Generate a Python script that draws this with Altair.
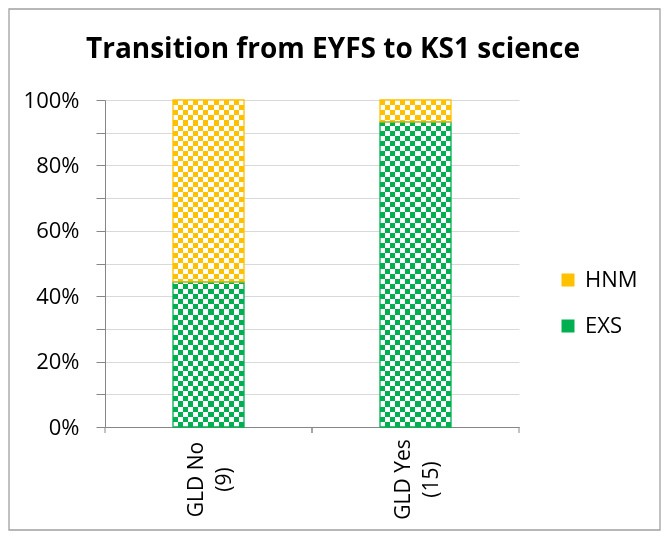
import altair as alt
import pandas as pd

# ---- data ----
categories = ["GLD No (9)", "GLD Yes (15)"]
series = ["HNM", "EXS"]
exs_values = [0.444, 0.933]
hnm_values = [0.556, 0.067]
series_colors = ["#FFC000", "#00B050"]
title_text = "Transition from EYFS to KS1 science"

long_df = pd.DataFrame({
    "category": categories * 2,
    "series": ["EXS"] * len(categories) + ["HNM"] * len(categories),
    "value": exs_values + hnm_values,
    "stackorder": [0] * len(categories) + [1] * len(categories),
})
totals_df = pd.DataFrame({
    "category": categories,
    "total": [e + h for e, h in zip(exs_values, hnm_values)],
})

W, H = 414, 327
BAR = 71
FONT = "Open Sans"
AXIS_GRAY = "#868686"


def stripes(n, vertical):
    stops = []
    for i in range(n):
        c = "#000000" if i % 2 == 0 else "#ffffff"
        stops.append(alt.GradientStop(color=c, offset=i / n))
        stops.append(alt.GradientStop(color=c, offset=(i + 1) / n))
    if vertical:
        return alt.LinearGradient(gradient="linear", stops=stops, x1=0, x2=1, y1=0, y2=0)
    return alt.LinearGradient(gradient="linear", stops=stops, x1=0, x2=0, y1=0, y2=1)


x_scale = alt.Scale(paddingInner=0, paddingOuter=0)
y_scale = alt.Scale(domain=[0, 1], nice=False)

x_axis = alt.Axis(
    title=None, labelAngle=270, labelAlign="center", labelBaseline="middle",
    labelExpr="split(replace(datum.label, ' (', '|('), '|')",
    labelLineHeight=28, labelPadding=52, labelOffset=-12, ticks=False, tickSize=0,
    domainColor=AXIS_GRAY, labelFont=FONT, labelFontSize=21, labelColor="#000000",
    grid=False, labelOverlap=False,
)
y_axis = alt.Axis(
    title=None, values=[i / 10 for i in range(11)], format=".0%",
    labelExpr="round(datum.value * 10) % 2 == 0 ? datum.label : ''",
    grid=True, gridColor="#d9d9d9", domainColor=AXIS_GRAY, tickColor=AXIS_GRAY,
    tickSize=9, labelPadding=17, labelFont=FONT, labelFontSize=22, labelColor="#000000",
)

x_enc = alt.X("category:N", sort=categories, scale=x_scale, axis=x_axis)

frame = alt.Chart(pd.DataFrame({"a": [0]})).mark_rect(
    fillOpacity=0, stroke="#a0a0a0", strokeWidth=1.3
).encode(x=alt.value(-96), x2=alt.value(555), y=alt.value(-91), y2=alt.value(430))

base_full = alt.Chart(totals_df).encode(
    x=x_enc,
    y=alt.Y("total:Q", scale=y_scale, axis=y_axis),
)
layer_a = base_full.mark_bar(size=BAR, color=stripes(14, True))
layer_b = base_full.mark_bar(size=BAR, color=stripes(64, False), blend="difference")

base_stack = alt.Chart(long_df).encode(
    x=x_enc,
    y=alt.Y("value:Q", stack="normalize", scale=y_scale, axis=y_axis),
    order=alt.Order("stackorder:Q"),
)
layer_c = base_stack.mark_bar(size=BAR, blend="screen").encode(
    color=alt.Color(
        "series:N", scale=alt.Scale(domain=series, range=series_colors),
        legend=alt.Legend(
            orient="none", legendX=452, legendY=169, title=None,
            symbolType="square", symbolSize=169, symbolStrokeWidth=0,
            labelFont=FONT, labelFontSize=22, labelColor="#000000",
            labelOffset=6, rowPadding=24, padding=0,
        ),
    )
)
layer_d = base_stack.mark_bar(size=BAR, fillOpacity=0, strokeWidth=1.3).encode(
    stroke=alt.Stroke("series:N", scale=alt.Scale(domain=series, range=series_colors), legend=None)
)

ticks_right = alt.Chart(totals_df).mark_rule(color=AXIS_GRAY).encode(
    x=alt.X("category:N", sort=categories, scale=x_scale, bandPosition=1, axis=x_axis),
    y=alt.value(H), y2=alt.value(H + 6),
)
ticks_left = alt.Chart(totals_df).mark_rule(color=AXIS_GRAY).encode(
    x=alt.X("category:N", sort=categories, scale=x_scale, bandPosition=0, axis=x_axis),
    y=alt.value(H), y2=alt.value(H + 6),
)

title = alt.Chart(pd.DataFrame({"t": [title_text]})).mark_text(
    font=FONT, fontSize=28, fontWeight="bold", align="center", baseline="alphabetic", color="#000000"
).encode(x=alt.value(228), y=alt.value(-42), text="t:N")

chart = alt.layer(
    frame, layer_a, layer_b, layer_c, layer_d, ticks_right, ticks_left, title
).properties(
    width=W, height=H,
    padding={"left": 97, "top": 92, "right": 142, "bottom": 104},
    autosize=alt.AutoSizeParams(type="none"),
    background="white",
).configure_view(stroke=None)

chart.save("out.html", embed_options={"renderer": "svg", "actions": False})
